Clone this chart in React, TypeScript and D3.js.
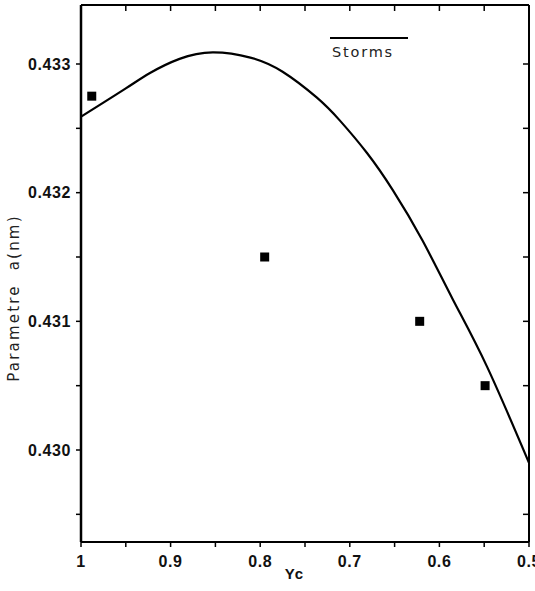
import React from "react";
import * as d3 from "d3";

const curveX = [1.0, 0.95, 0.923, 0.89, 0.853, 0.811, 0.775, 0.737, 0.711, 0.681, 0.652, 0.619, 0.585, 0.547, 0.5];
const curveY = [0.43259, 0.43281, 0.43293, 0.43304, 0.43309, 0.43305, 0.43294, 0.43274, 0.43256, 0.43231, 0.43202, 0.43163, 0.43117, 0.43065, 0.4299];

const pointX = [0.988, 0.795, 0.622, 0.549];
const pointY = [0.43275, 0.4315, 0.431, 0.4305];

const xMajor = [1, 0.9, 0.8, 0.7, 0.6, 0.5];
const xMajorLabels = ["1", "0.9", "0.8", "0.7", "0.6", "0.5"];
const xMinor = [0.95, 0.85, 0.75, 0.65, 0.55];
const yMajor = [0.433, 0.432, 0.431, 0.43];
const yMajorLabels = ["0.433", "0.432", "0.431", "0.430"];
const yMinor = [0.4325, 0.4315, 0.4305, 0.4295];
const topTicks = [0.95, 0.9, 0.85, 0.8, 0.75, 0.7, 0.65, 0.6, 0.55];
const rightTicks = [0.433, 0.4325, 0.432, 0.4315, 0.431, 0.4305, 0.4295];

const legendLabel = "Storms";
const xTitle = "Yc";
const yTitle = "Parametre  a(nm)";

export default function App() {
  const L = 81, R = 529, T = 5, B = 542;
  const x = d3.scaleLinear().domain([1, 0.5]).range([L, R]);
  const y = d3.scaleLinear().domain([0.433, 0.43]).range([64, 450]);
  const line = d3
    .line<number>()
    .x((_, i) => x(curveX[i]))
    .y((d) => y(d))
    .curve(d3.curveNatural);
  const font = "'Liberation Sans', Arial, sans-serif";
  const lightFont = "'DejaVu Sans', sans-serif";
  return (
    <svg
      width={535}
      height={591}
      style={{ position: "absolute", left: 0, top: 0, background: "#fff" }}
    >
      <rect x={0} y={0} width={535} height={591} fill="#fff" />
      {/* frame */}
      <line x1={L} y1={T} x2={L} y2={B} stroke="#000" strokeWidth={2.5} />
      <line x1={L} y1={B} x2={R} y2={B} stroke="#000" strokeWidth={2} />
      <line x1={L} y1={T} x2={R} y2={T} stroke="#000" strokeWidth={2} />
      <line x1={R} y1={T} x2={R} y2={B} stroke="#000" strokeWidth={2} />
      {/* left ticks outward */}
      {yMajor.map((v, i) => (
        <g key={"ym" + i}>
          <line x1={L - 5} x2={L} y1={y(v)} y2={y(v)} stroke="#000" strokeWidth={1.5} />
          <text
            x={L - 10}
            y={y(v)}
            dy="0.36em"
            textAnchor="end"
            fontFamily={font}
            fontWeight="bold"
            fontSize={16}
            letterSpacing={0.6}
            fill="#111"
          >
            {yMajorLabels[i]}
          </text>
        </g>
      ))}
      {yMinor.map((v, i) => (
        <line key={"yn" + i} x1={L - 5} x2={L} y1={y(v)} y2={y(v)} stroke="#000" strokeWidth={1.5} />
      ))}
      {/* right ticks inward */}
      {rightTicks.map((v, i) => (
        <line key={"rt" + i} x1={R - 6} x2={R} y1={y(v)} y2={y(v)} stroke="#000" strokeWidth={1.5} />
      ))}
      {/* bottom ticks outward */}
      {xMajor.map((v, i) => (
        <g key={"xm" + i}>
          <line x1={x(v)} x2={x(v)} y1={B} y2={B + 5} stroke="#000" strokeWidth={1.5} />
          <text
            x={x(v)}
            y={567}
            textAnchor="middle"
            fontFamily={font}
            fontWeight="bold"
            fontSize={16}
            letterSpacing={0.6}
            fill="#111"
          >
            {xMajorLabels[i]}
          </text>
        </g>
      ))}
      {xMinor.map((v, i) => (
        <line key={"xn" + i} x1={x(v)} x2={x(v)} y1={B} y2={B + 5} stroke="#000" strokeWidth={1.5} />
      ))}
      {/* top ticks inward */}
      {topTicks.map((v, i) => (
        <line key={"tt" + i} x1={x(v)} x2={x(v)} y1={T} y2={T + 6} stroke="#000" strokeWidth={1.5} />
      ))}
      {/* curve */}
      <path d={line(curveY) || ""} fill="none" stroke="#000" strokeWidth={2.2} />
      {/* points */}
      {pointX.map((v, i) => (
        <rect
          key={"p" + i}
          x={x(v) - 4.5}
          y={y(pointY[i]) - 4.5}
          width={9}
          height={9}
          fill="#000"
        />
      ))}
      {/* legend */}
      <line x1={330} x2={408} y1={38} y2={38} stroke="#000" strokeWidth={1.8} />
      <text x={332} y={57} fontFamily={lightFont} fontSize={14.5} letterSpacing={1.8} fill="#222">
        {legendLabel}
      </text>
      {/* axis titles */}
      <text
        x={294}
        y={579}
        textAnchor="middle"
        fontFamily={font}
        fontWeight="bold"
        fontSize={15}
        fill="#111"
      >
        {xTitle}
      </text>
      <text
        transform="translate(19,298) rotate(-90)"
        textAnchor="middle"
        fontFamily={lightFont}
        fontSize={15}
        letterSpacing={2.2}
        fill="#222"
        style={{ whiteSpace: "pre" }}
      >
        {yTitle}
      </text>
    </svg>
  );
}
